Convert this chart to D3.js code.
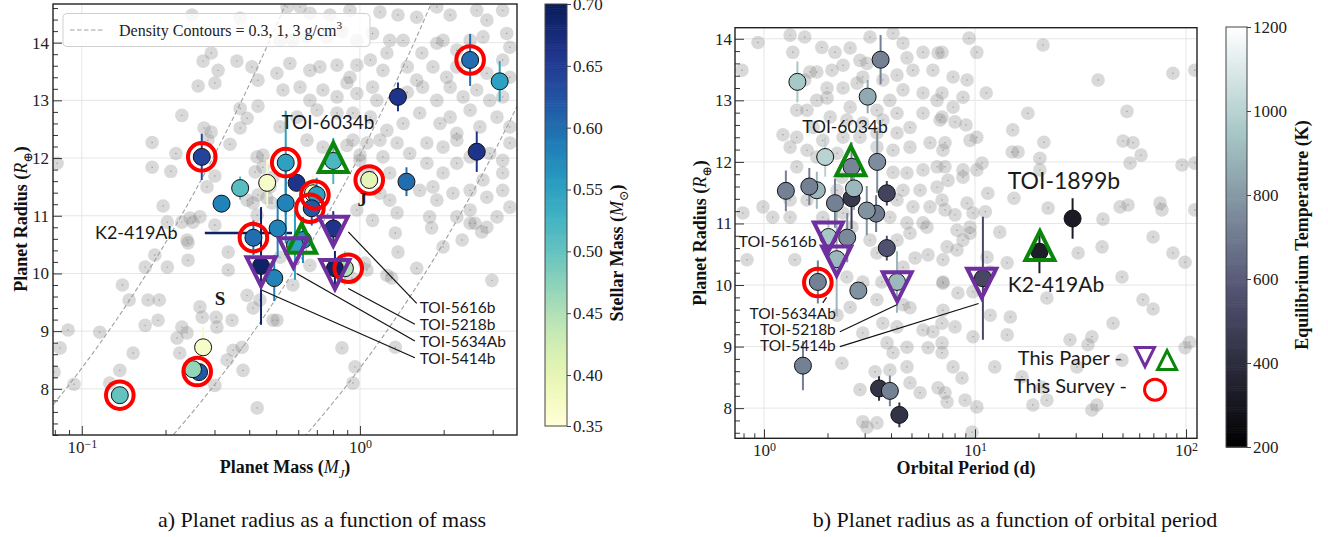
<!DOCTYPE html>
<html><head><meta charset="utf-8">
<script src="https://cdn.jsdelivr.net/npm/d3@7"></script>
<style>body{margin:0;background:#fff}svg{display:block}</style>
</head><body><svg id="c" width="1328" height="537"></svg>
<script>
// ================= DATA =================
const densityLevels = [0.3, 1, 3]; // g/cm^3
// --- panel a: background (gray) planets: mass (MJ), radius (Re)
const grayMassL = [0.249,0.371,0.273,0.292,0.309,0.361,0.409,0.262,0.301,0.430,0.229,0.371,0.393,0.430,0.275,0.292,0.371,0.179,0.218,0.284,0.341,0.179,0.209,0.301,0.282,0.427,0.448,0.393,0.413,0.196,0.266,0.245,0.203,0.0815,0.487,0.475,0.463,
1.18,1.37,1.60,1.89,2.11,2.86,3.26,2.63,0.547,0.609,0.661,0.780,0.921,0.516,0.574,0.645,0.761,0.862,0.975,1.11,1.28,1.43,1.67,1.89,1.99,2.23,2.49,2.77,3.46,3.37,
0.503,0.560,0.661,0.718,0.827,0.921,0.975,1.09,1.21,1.25,1.48,1.60,1.83,2.05,2.23,2.86,3.26,3.46,0.529,0.609,0.661,0.736,0.827,0.898,0.975,1.11,1.15,1.48,1.68,1.89,2.11,2.35,2.63,2.93,3.26,
0.516,0.594,0.701,0.827,0.944,1.09,1.25,1.43,1.64,1.94,2.11,2.23,2.49,2.70,3.11,3.46,0.645,0.736,0.944,1.06,1.18,1.36,1.51,1.74,1.99,2.23,2.49,2.93,3.26,3.46,1.21,1.00,1.74,1.99,2.23,3.26,2.77,1.83,1.28,1.09,
1.18,1.28,1.64,1.89,2.16,2.49,2.86,3.26,3.46,2.49,2.23,1.78,1.36,1.11,3.11,2.86,
0.0836,0.0893,0.0795,0.0938,0.126,0.137,0.116,0.153,0.140,0.148,0.169,0.173,0.190,0.169,0.183,0.203,0.188,0.241,0.241,0.229,0.251,0.220,0.229,0.239,0.225,0.271,0.304,0.306,0.266,0.347,0.333,0.350,0.377,0.380,0.301,0.427,0.336,0.336,0.393,0.413,0.487,0.437,0.516,0.301,
1.81,1.99,2.33,2.59,2.74,2.98,1.60,1.30,1.25,1.06,1.04,0.936,0.661,0.574,0.503,0.862,1.34,0.96,0.944,2.49,
0.448,0.420,0.430,0.483,0.427,1.00,1.07,0.898,0.975,0.239,1.37,1.34];
const grayRadiusL = [14.48,14.42,13.68,13.82,13.52,13.68,13.58,13.25,13.30,13.35,12.74,12.86,12.69,12.90,12.52,12.45,12.52,12.27,12.08,12.31,12.24,11.84,11.77,11.69,11.50,12.02,11.84,11.27,11.22,11.17,10.98,10.96,10.89,11.91,11.67,11.50,11.31,
14.53,14.48,14.44,14.62,14.48,14.39,14.56,14.56,14.62,14.62,14.51,14.48,14.56,14.04,14.04,14.10,14.10,14.19,14.04,14.16,14.04,14.04,13.82,13.99,14.04,13.87,14.04,14.10,13.92,14.16,
13.47,13.64,13.52,13.58,13.61,13.40,13.61,13.70,13.52,13.82,13.58,13.35,13.58,13.40,13.58,13.47,13.70,13.40,13.18,13.23,13.00,13.18,13.06,13.30,13.12,13.23,13.00,13.14,13.23,13.00,13.23,13.06,13.18,13.00,13.06,
12.54,12.71,12.83,12.78,12.78,12.71,12.48,12.60,12.78,12.60,12.71,12.43,12.83,12.54,12.71,12.54,12.31,12.19,12.31,12.26,12.31,12.26,12.08,12.26,12.19,12.31,12.02,12.08,11.96,12.26,12.02,11.96,11.91,11.74,11.91,11.74,11.62,11.50,11.74,11.67,
11.39,11.27,11.44,11.27,11.39,11.44,11.32,11.44,11.15,11.10,10.98,10.98,11.05,10.92,10.98,10.80,
8.71,9.02,8.29,8.08,8.10,8.32,8.98,8.62,9.80,9.54,9.10,9.54,9.54,10.11,10.32,10.11,9.19,10.53,10.23,10.89,10.89,8.88,9.07,8.97,8.62,9.24,9.24,9.07,9.42,9.19,8.50,8.67,8.72,8.32,8.06,7.67,10.37,10.06,9.62,9.40,9.19,9.54,10.28,10.84,
10.79,10.46,10.58,10.87,10.72,9.88,10.09,9.92,9.97,10.06,10.18,9.92,10.14,9.80,9.19,8.71,8.72,8.38,8.10,10.87,
12.05,11.76,11.36,11.22,11.01,12.05,11.76,12.22,11.10,10.58,10.37,10.70];

// --- panel a: survey planets (colored by stellar mass)
const planetMassL   = [0.137,0.264,0.251,0.273,0.270,0.318,0.371,0.464,0.541,0.592,0.541,0.506,0.414,0.492,0.441,0.624,0.584,0.802,0.678,0.699,0.671,0.802,0.883,0.813,1.08,1.37,1.47,2.63,2.49,3.18];
const planetRadiusL = [7.89,8.29,8.34,8.72,12.02,11.21,11.48,11.57,11.92,11.57,11.22,10.78,10.62,9.92,10.13,10.58,10.49,11.95,11.39,11.36,11.13,10.78,10.09,10.09,11.62,13.06,11.59,12.11,13.70,13.33];
const stellarMassL  = [0.50,0.62,0.47,0.37,0.64,0.58,0.51,0.37,0.55,0.66,0.58,0.58,0.60,0.58,0.69,0.57,0.55,0.52,0.38,0.55,0.62,0.66,0.45,0.69,0.40,0.66,0.60,0.66,0.60,0.55];
const radiusErrL    = [0,0,0,0.35,0.40,0.15,0.20,0.40,0.90,0,0.70,0.50,0.30,0.40,1.02,0.40,0.60,0.40,0.30,0.30,0.30,0.30,0.30,0.30,0,0.25,0.25,0.35,0.45,0.35];
const surveyMassL   = [0.137,0.260,0.270,0.541,0.414,0.689,0.661,0.908,1.08,2.49];
const surveyRadiusL = [7.89,8.30,12.02,11.92,10.62,11.36,11.13,10.09,11.62,13.70];
const paperUpMassL = [0.802,0.617], paperUpRadiusL = [12.01,10.61];
const paperDownMassL = [0.441,0.576,0.802,0.813], paperDownRadiusL = [10.03,10.36,10.73,9.98];
const k2MassRangeL = [0.277,0.570], k2MassRangeRadiusL = 10.70;

// --- panel b: background planets: period (d), radius (Re)
const grayPeriodR = [0.937,0.786,1.33,1.56,1.88,1.37,2.17,2.56,3.18,4.09,4.56,2.85,3.08,2.37,1.78,2.10,4.76,5.67,6.68,6.32,5.08,4.27,3.66,2.94,2.76,2.37,1.99,1.65,1.56,1.23,
1.78,1.99,2.56,3.43,3.95,4.56,5.67,6.61,4.27,3.66,2.94,2.47,2.06,1.71,1.43,1.60,5.67,6.83,4.92,4.27,3.43,2.85,2.37,1.90,1.33,1.43,3.43,4.09,4.92,6.12,7.05,1.78,2.22,1.60,1.43,1.60,1.33,2.34,2.22,4.09,4.76,5.67,6.61,4.56,5.49,6.61,4.27,5.08,6.12,3.95,4.76,5.67,2.37,1.90,1.33,1.10,0.989,0.795,
9.37,10.2,6.98,21.0,38.3,86.7,110,7.87,9.17,6.98,8.77,11.3,7.87,6.98,8.04,9.06,10.2,9.47,7.21,17.8,15.1,21.2,15.0,16.0,20.3,52.5,50.3,56.1,61.2,54.3,95.7,110,7.21,8.77,10.2,10.8,7.45,8.77,11.5,15.3,22.2,40.4,48.7,53.1,75.3,76.9,110,6.98,7.21,8.04,9.17,9.78,11.2,9.47,20.3,
8.22,8.77,9.47,13.1,7.37,8.22,11.4,14.2,11.8,7.05,8.30,9.78,11.8,14.7,21.9,30.8,40.0,49.7,45.1,62.5,69.8,69.8,86.7,98.9,104,98.9,6.98,8.04,9.78,6.98,7.87,8.68,7.21,8.97,10.2,12.4,14.2,16.7,18.8,21.9,28.2,34.3,35.8,49.7,37.8,35.8,9.68,20.8,30.4,
0.831,1.40,2.61,3.18,3.43,4.27,4.92,5.92,7.05,5.20,5.99,4.56,3.62,3.43,2.94,2.76,2.47,2.22,2.56,2.94,3.66,4.27,4.56,4.92,5.67,6.32,7.05,7.05,3.83,4.09,4.76,5.99,6.98,2.34,3.95,4.76,2.85,2.94,3.08,3.43,4.92,5.49,7.37,6.68,3.36];
const grayRadiusR = [13.94,13.49,14.06,14.03,13.86,13.78,13.78,13.85,14.03,14.09,13.93,13.65,13.60,13.57,13.46,13.49,13.69,13.78,13.77,13.49,13.49,13.41,13.33,13.38,13.28,13.20,13.20,13.46,13.33,12.44,
13.00,13.04,12.89,12.84,13.00,13.17,13.12,13.00,12.79,12.68,12.63,12.68,12.73,12.56,12.84,12.84,12.79,12.68,12.56,12.47,12.47,12.40,12.40,12.35,12.24,12.40,12.24,12.19,12.24,12.31,12.19,12.08,12.14,12.19,11.92,11.38,11.38,11.75,11.54,11.83,11.82,11.87,11.92,11.54,11.54,11.59,11.38,11.27,11.27,11.10,11.01,11.01,11.17,11.10,11.10,11.10,11.27,11.17,
14.01,13.78,13.78,13.90,13.33,13.44,13.49,13.38,13.33,13.12,13.05,13.12,12.89,12.73,12.65,12.60,12.40,12.35,12.31,12.79,12.52,12.32,12.16,12.16,12.06,12.82,12.34,12.31,12.11,11.98,11.95,11.98,11.92,11.87,11.87,11.98,11.70,11.75,11.49,11.41,11.25,11.07,11.27,11.30,11.33,11.22,11.22,11.38,11.22,11.14,11.33,11.17,11.19,10.94,11.87,
10.89,10.73,10.84,10.86,10.62,10.57,10.45,10.36,10.21,10.05,9.87,9.89,9.51,9.48,9.79,10.52,10.62,10.13,9.38,9.76,9.61,10.78,10.52,10.37,9.07,8.98,9.38,9.32,9.16,9.06,8.67,8.49,8.25,8.13,8.02,8.67,9.19,8.51,8.05,8.13,9.11,9.03,9.16,8.78,8.05,7.97,7.61,8.34,8.67,
10.41,10.41,10.94,10.73,10.52,10.73,10.84,10.94,10.41,10.44,10.49,10.29,10.05,9.76,10.05,9.87,10.13,9.51,9.64,9.22,9.38,9.32,9.68,9.63,9.27,9.24,9.59,10.03,9.06,8.90,8.99,8.98,8.90,8.73,8.62,8.67,8.30,7.78,7.69,7.76,8.41,8.25,8.10,8.33,8.59];

// --- panel b: survey planets (colored by equilibrium temperature)
const planetPeriodR = [1.44,3.57,3.10,1.95,1.78,1.27,1.64,2.60,2.60,3.44,2.67,3.82,2.17,3.40,3.07,2.48,2.02,3.82,2.21,1.80,2.80,4.27,1.53,3.51,3.95,4.38,29.0,20.2,10.9];
const planetRadiusR = [13.30,13.66,13.06,12.08,11.54,11.53,11.60,11.41,11.92,12.00,11.57,11.49,11.33,11.16,11.21,10.77,10.78,10.60,10.42,10.05,9.91,10.05,8.69,8.32,8.28,7.89,11.08,10.54,10.11];
const teqR          = [950,720,850,1000,900,720,720,450,730,760,900,500,720,700,780,750,950,560,900,720,780,900,720,430,720,430,320,330,520];
const radiusErrR    = [0.33,0.40,0.27,0.32,0.30,0.33,0.30,0.50,0.40,0.50,0.35,0.20,0.40,0.30,0.40,0.40,0.30,0.20,0.90,0.35,0,0.50,0.40,0.20,0.25,0.20,0.33,0.35,1.00];
const surveyPeriodR = [1.80], surveyRadiusR = [10.04];
const paperUpPeriodR = [2.58,20.3], paperUpRadiusR = [12.02,10.64];
const paperDownPeriodR = [2.02,2.21,4.28,10.76], paperDownRadiusR = [10.78,10.39,9.97,10.03];

// --- ticks
const xMajorL = [0.1, 1], xMinorL = [0.08,0.09,0.2,0.3,0.4,0.5,0.6,0.7,0.8,0.9,2,3];
const xMajorR = [1, 10, 100], xMinorR = [0.8,0.9,2,3,4,5,6,7,8,9,20,30,40,50,60,70,80,90];
const yMajor = [8, 9, 10, 11, 12, 13, 14];
const cbTicksL = [0.35,0.40,0.45,0.50,0.55,0.60,0.65,0.70];
const cbTicksR = [200,400,600,800,1000,1200];

// ================= DRAWING =================
const SERIF = "'Liberation Serif','DejaVu Serif',serif";
const SANS = "Lato,'Open Sans',sans-serif";
const svg = d3.select('#c');
const defs = svg.append('defs');

const xL = d3.scaleLog().domain([0.0788, 3.67]).range([53, 517]);
const yL = d3.scaleLinear().domain([7.2, 14.67]).range([435, 4]);
const xR = d3.scaleLog().domain([0.729, 112.7]).range([735, 1197]);
const yR = d3.scaleLinear().domain([7.51, 14.18]).range([438.3, 27.7]);
const cbL = d3.scaleLinear().domain([0.35, 0.40, 0.70]).range([426, 375, 4]);
const cbR = d3.scaleLinear().domain([200, 1200]).range([447, 27]);

function bone(t){
  t = Math.max(0, Math.min(1, t));
  const f = pts => { for (let i=1;i<pts.length;i++){ if (t<=pts[i][0]){ const [a,b]=pts[i-1],[c,d]=pts[i]; return b+(d-b)*(t-a)/(c-a);} } return 1; };
  return d3.rgb(255*f([[0,0],[0.746032,0.652778],[1,1]]), 255*f([[0,0],[0.365079,0.319444],[0.746032,0.777778],[1,1]]), 255*f([[0,0],[0.365079,0.444444],[1,1]])).formatHex();
}
const colL = v => d3.interpolateYlGnBu((v-0.35)/0.35);
const colR = v => bone((v-200)/1000);

function makePanel(id, x, y, xMajor){
  const [x0,x1]=x.range(), [y0,y1]=y.range();
  defs.append('clipPath').attr('id',id).append('rect').attr('x',x0).attr('y',y1).attr('width',x1-x0).attr('height',y0-y1);
  const g = svg.append('g');
  const grid = g.append('g').attr('stroke','#e6e6e6').attr('stroke-width',1);
  grid.selectAll('line.v').data(xMajor).join('line').attr('class','v').attr('x1',d=>x(d)).attr('x2',d=>x(d)).attr('y1',y1).attr('y2',y0);
  grid.selectAll('line.h').data(yMajor).join('line').attr('class','h').attr('x1',x0).attr('x2',x1).attr('y1',d=>y(d)).attr('y2',d=>y(d));
  const plot = g.append('g').attr('clip-path',`url(#${id})`);
  return {g, plot};
}

function grayPts(plot, xs, ys, x, y){
  const d = xs.map((v,i)=>[v, ys[i]]);
  plot.append('g').selectAll('circle').data(d).join('circle')
    .attr('cx',p=>x(p[0])).attr('cy',p=>y(p[1])).attr('r',6.8)
    .attr('fill','rgb(128,128,128)').attr('fill-opacity',0.3);
  plot.append('g').selectAll('circle').data(d).join('circle')
    .attr('cx',p=>x(p[0])).attr('cy',p=>y(p[1])).attr('r',0.7).attr('fill','#777').attr('fill-opacity',0.7);
}

function colorPts(plot, xs, ys, cs, errs, x, y, col){
  const d = xs.map((v,i)=>({x:v, y:ys[i], c:cs[i], e:errs[i]}));
  plot.append('g').selectAll('line').data(d.filter(p=>p.e>0)).join('line')
    .attr('x1',p=>x(p.x)).attr('x2',p=>x(p.x)).attr('y1',p=>y(p.y-p.e)).attr('y2',p=>y(p.y+p.e))
    .attr('stroke',p=>col(p.c)).attr('stroke-width',2);
  plot.append('g').selectAll('circle').data(d).join('circle')
    .attr('cx',p=>x(p.x)).attr('cy',p=>y(p.y)).attr('r',8.5)
    .attr('fill',p=>col(p.c)).attr('stroke','#111').attr('stroke-width',1);
}

const triUp = h => `M0,${-h}L${h},${h}L${-h},${h}Z`;
const triDown = h => `M${-h},${-h}L${h},${-h}L0,${h}Z`;
function rings(plot, xs, ys, x, y, r=13.8, w=4){
  plot.append('g').selectAll('circle').data(xs.map((v,i)=>[v,ys[i]])).join('circle')
    .attr('cx',p=>x(p[0])).attr('cy',p=>y(p[1])).attr('r',r).attr('fill','none').attr('stroke','#ff0000').attr('stroke-width',w);
}
function tris(plot, xs, ys, x, y, up, h=14.5, w=4){
  plot.append('g').selectAll('path').data(xs.map((v,i)=>[v,ys[i]])).join('path')
    .attr('transform',p=>`translate(${x(p[0])},${y(p[1])})`).attr('d', up?triUp(h):triDown(h))
    .attr('fill','none').attr('stroke', up?'#0a860a':'#6f2f9f').attr('stroke-width',w).attr('stroke-linejoin','miter');
}

function rich(text, parts, size){
  parts.forEach(p=>{
    const t = text.append('tspan').text(p.t);
    if (p.i) t.attr('font-style','italic').attr('font-weight','normal');
    if (p.sub) t.attr('font-size', size*0.7).attr('dy', size*0.25).attr('font-weight','normal');
    if (p.after) t.attr('dy', -size*0.25);
    if (p.sup) t.attr('font-size', size*0.7).attr('dy', -size*0.4);
  });
}

function axes(g, x, y, xMajor, xMinor, padY){
  const [x0,x1]=x.range(), [y0,y1]=y.range();
  const yMinor = d3.range(Math.ceil(y.domain()[0]*5), Math.floor(y.domain()[1]*5)+1).map(v=>v/5).filter(v=>Math.abs(v-Math.round(v))>1e-6);
  const bx = g.append('g').attr('transform',`translate(0,${y0})`)
    .call(d3.axisBottom(x).tickValues(xMajor).tickSize(-9).tickPadding(6));
  bx.selectAll('.tick text').each(function(d){
    const t = d3.select(this); const e = Math.round(Math.log10(d));
    t.text(''); t.append('tspan').text('10');
    t.append('tspan').attr('dy','-0.45em').attr('font-size',12).text(e<0?'\u2212'+(-e):String(e));
  });
  g.append('g').attr('transform',`translate(0,${y0})`).call(d3.axisBottom(x).tickValues(xMinor).tickSize(-5).tickFormat(''));
  g.append('g').attr('transform',`translate(${x0},0)`).call(d3.axisLeft(y).tickValues(yMajor).tickSize(-9).tickPadding(padY).tickFormat(d3.format('d')));
  g.append('g').attr('transform',`translate(${x0},0)`).call(d3.axisLeft(y).tickValues(yMinor).tickSize(-5).tickFormat(''));
  g.selectAll('.domain').remove();
  g.selectAll('.tick line').attr('stroke','#333').attr('stroke-width',1);
  g.selectAll('.tick text').attr('font-family',SERIF).attr('font-size',17).attr('fill','#222');
  g.append('rect').attr('x',x0).attr('y',y1).attr('width',x1-x0).attr('height',y0-y1).attr('fill','none').attr('stroke','#222').attr('stroke-width',1.4);
}

function colorbar(scale, x, w, col, ticks, fmt){
  const [b,t] = [d3.max(scale.range()), d3.min(scale.range())];
  const g = svg.append('g');
  const n = 200;
  for (let i=0;i<n;i++){
    const ya = t + (b-t)*i/n, yb = t + (b-t)*(i+1)/n;
    g.append('rect').attr('x',x).attr('y',ya).attr('width',w).attr('height',yb-ya+0.6).attr('fill',col(scale.invert((ya+yb)/2)));
  }
  g.append('rect').attr('x',x).attr('y',t).attr('width',w).attr('height',b-t).attr('fill','none').attr('stroke','#444').attr('stroke-width',1);
  const ax = g.append('g').attr('transform',`translate(${x+w},0)`).call(d3.axisRight(scale).tickValues(ticks).tickSize(4).tickPadding(2).tickFormat(fmt));
  ax.select('.domain').remove();
  ax.selectAll('.tick line').attr('stroke','#444');
  ax.selectAll('.tick text').attr('font-family',SERIF).attr('font-size',17).attr('fill','#222');
}

function label(g, x, y, txt, size, anchor='middle', fam=SANS, weight='normal'){
  return g.append('text').attr('x',x).attr('y',y).attr('text-anchor',anchor).attr('dominant-baseline','central')
    .attr('font-family',fam).attr('font-size',size).attr('font-weight',weight).attr('fill','#1a1a1a').text(txt);
}
function connectors(g, pairs, x, y, color='#111', w=1.2){
  g.append('g').selectAll('line').data(pairs).join('line')
    .attr('x1',p=>x(p[0][0])).attr('y1',p=>y(p[0][1])).attr('x2',p=>x(p[1][0])).attr('y2',p=>y(p[1][1]))
    .attr('stroke',color).attr('stroke-width',w);
}

// ---------- Panel a ----------
{
  const {g, plot} = makePanel('clipL', xL, yL, xMajorL);
  grayPts(plot, grayMassL, grayRadiusL, xL, yL);
  const MJ = 1.898e30, RE = 6.371e8;
  const masses = d3.range(-1.2, 0.7, 0.01).map(v=>Math.pow(10,v));
  const line = d3.line().x(p=>xL(p[0])).y(p=>yL(p[1]));
  densityLevels.forEach(rho=>{
    const pts = masses.map(m=>[m, Math.cbrt(3*m*MJ/(4*Math.PI*rho))/RE]);
    plot.append('path').attr('d',line(pts)).attr('fill','none').attr('stroke','#a0a0a0').attr('stroke-width',1.1).attr('stroke-dasharray','4.5,2.5');
  });
  plot.append('line').attr('x1',xL(k2MassRangeL[0])).attr('x2',xL(k2MassRangeL[1])).attr('y1',yL(k2MassRangeRadiusL)).attr('y2',yL(k2MassRangeRadiusL))
    .attr('stroke',colL(0.69)).attr('stroke-width',2.5);
  colorPts(plot, planetMassL, planetRadiusL, stellarMassL, radiusErrL, xL, yL, colL);
  rings(plot, surveyMassL, surveyRadiusL, xL, yL);
  tris(plot, paperUpMassL, paperUpRadiusL, xL, yL, true);
  tris(plot, paperDownMassL, paperDownRadiusL, xL, yL, false);
  connectors(plot, [[[0.908,10.72],[1.60,9.48]],[[0.908,9.74],[1.576,9.12]],[[0.592,10.0],[1.576,8.83]],[[0.445,9.71],[1.576,8.54]]], xL, yL);
  const lg = g.append('g');
  lg.append('rect').attr('x',63).attr('y',13.5).attr('width',307).attr('height',33).attr('rx',4)
    .attr('fill','#fff').attr('fill-opacity',0.8).attr('stroke','#d0d0d0');
  lg.append('line').attr('x1',70).attr('x2',104).attr('y1',30).attr('y2',30).attr('stroke','#a0a0a0').attr('stroke-width',1.1).attr('stroke-dasharray','4.5,2.5');
  const lt = lg.append('text').attr('x',119).attr('y',35.5).attr('font-family',SERIF).attr('font-size',16).attr('fill','#222');
  rich(lt, [{t:'Density Contours = 0.3, 1, 3 g/cm'},{t:'3',sup:true}], 16);
  label(g, xL(0.767), yL(12.64), 'TOI-6034b', 19);
  label(g, xL(0.157), yL(10.72), 'K2-419Ab', 18);
  [['TOI-5616b',9.42],['TOI-5218b',9.12],['TOI-5634Ab',8.83],['TOI-5414b',8.53]].forEach(([t,r])=>label(g, xL(1.64), yL(r), t, 15.5, 'start'));
  label(g, xL(0.314), yL(9.57), 'S', 19, 'middle', SERIF, 'bold');
  label(g, xL(1.02), yL(11.28), 'J', 19, 'middle', SERIF, 'bold');
  axes(g, xL, yL, xMajorL, xMinorL, 4);
  const xt = g.append('text').attr('x',285).attr('y',473).attr('text-anchor','middle').attr('font-family',SERIF).attr('font-size',18).attr('font-weight','bold').attr('fill','#111');
  rich(xt, [{t:'Planet Mass ('},{t:'M',i:true},{t:'J',i:true,sub:true},{t:')',after:true}], 18);
  const yt = g.append('text').attr('transform','translate(27,219) rotate(-90)').attr('text-anchor','middle').attr('font-family',SERIF).attr('font-size',18).attr('font-weight','bold').attr('fill','#111');
  rich(yt, [{t:'Planet Radius ('},{t:'R',i:true},{t:'\u2295',sub:true},{t:')',after:true}], 18);
}
colorbar(cbL, 545, 22, colL, cbTicksL, d3.format('.2f'));
{
  const t = svg.append('text').attr('transform','translate(623,253) rotate(-90)').attr('text-anchor','middle').attr('font-family',SERIF).attr('font-size',18).attr('font-weight','bold').attr('fill','#111');
  rich(t, [{t:'Stellar Mass ('},{t:'M',i:true},{t:'\u2299',sub:true},{t:')',after:true}], 18);
}

// ---------- Panel b ----------
{
  const {g, plot} = makePanel('clipR', xR, yR, xMajorR);
  grayPts(plot, grayPeriodR, grayRadiusR, xR, yR);
  colorPts(plot, planetPeriodR, planetRadiusR, teqR, radiusErrR, xR, yR, colR);
  rings(plot, surveyPeriodR, surveyRadiusR, xR, yR);
  tris(plot, paperUpPeriodR, paperUpRadiusR, xR, yR, true);
  tris(plot, paperDownPeriodR, paperDownRadiusR, xR, yR, false);
  connectors(plot, [[[1.90,9.71],[1.98,9.80]],[[2.29,9.24],[4.26,9.68]],[[2.29,9.0],[10.4,9.70]]], xR, yR);
  label(g, xR(2.42), yR(12.58), 'TOI-6034b', 17.5);
  label(g, xR(26.4), yR(11.70), 'TOI-1899b', 23);
  label(g, xR(14.3), yR(10.03), 'K2-419Ab', 21, 'start');
  label(g, xR(1.78), yR(10.73), 'TOI-5616b', 16, 'end');
  [['TOI-5634Ab',9.55],['TOI-5218b',9.29],['TOI-5414b',9.03]].forEach(([t,r])=>label(g, xR(2.19), yR(r), t, 15.5, 'end'));
  label(g, xR(49.7), yR(8.83), 'This Paper -', 20, 'end');
  label(g, xR(52.5), yR(8.37), 'This Survey -', 20, 'end');
  tris(g, [63.9], [8.83], xR, yR, false, 9.5, 3);
  tris(g, [81.3], [8.78], xR, yR, true, 9.5, 3);
  rings(g, [71.3], [8.30], xR, yR, 10.5, 3);
  axes(g, xR, yR, xMajorR, xMinorR, 3);
  g.append('text').attr('x',966).attr('y',474).attr('text-anchor','middle').attr('font-family',SERIF).attr('font-size',18).attr('font-weight','bold').attr('fill','#111').text('Orbital Period (d)');
  const yt = g.append('text').attr('transform','translate(706,233) rotate(-90)').attr('text-anchor','middle').attr('font-family',SERIF).attr('font-size',18).attr('font-weight','bold').attr('fill','#111');
  rich(yt, [{t:'Planet Radius ('},{t:'R',i:true},{t:'\u2295',sub:true},{t:')',after:true}], 18);
}
colorbar(cbR, 1226, 21, colR, cbTicksR, d3.format('d'));
svg.append('text').attr('transform','translate(1308,235) rotate(-90)').attr('text-anchor','middle').attr('font-family',SERIF).attr('font-size',18).attr('font-weight','bold').attr('fill','#111').text('Equilibrium Temperature (K)');

// captions
svg.append('text').attr('x',322).attr('y',527).attr('text-anchor','middle').attr('font-family',SERIF).attr('font-size',22).attr('fill','#111').text('a) Planet radius as a function of mass');
svg.append('text').attr('x',1015).attr('y',527).attr('text-anchor','middle').attr('font-family',SERIF).attr('font-size',22).attr('fill','#111').text('b) Planet radius as a function of orbital period');
</script></body></html>
